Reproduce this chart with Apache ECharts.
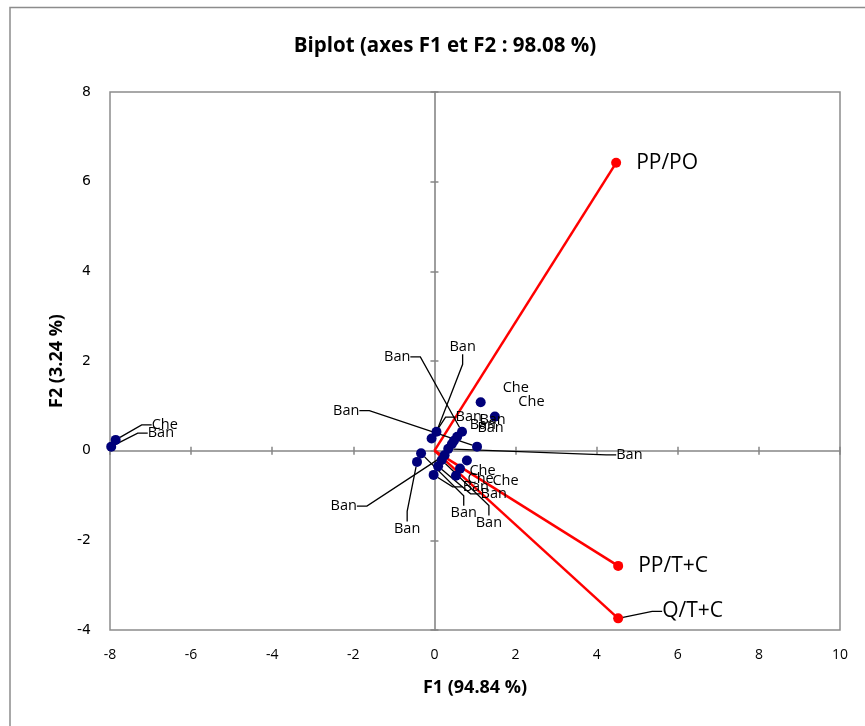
<!DOCTYPE html>
<html><head><meta charset="utf-8">
<script src="https://cdn.jsdelivr.net/npm/echarts@6/dist/echarts.min.js"></script>
<style>html,body{margin:0;padding:0;background:#fff}#c{width:865px;height:726px}</style>
</head><body><div id="c"></div>
<script>
// ---- data ----
const xTicks = [-8, -6, -4, -2, 0, 2, 4, 6, 8, 10];
const yTicks = [-4, -2, 0, 2, 4, 6, 8];
const obsNames = ['Ban','Che','Che','Che','Ban','Ban','Ban','Ban','Ban','Ban','Ban','Ban','Ban','Ban','Ban','Ban','Ban','Che','Che','Che','Ban'];
const obsF1 = [-7.97,-7.86,1.14,1.49,0.68,0.56,0.05,-0.07,1.05,0.43,0.34,0.25,-0.33,-0.43,0.18,0.09,-0.02,0.80,0.63,0.53,0.48];
const obsF2 = [0.09,0.24,1.08,0.76,0.42,0.31,0.42,0.27,0.09,0.15,0.04,-0.10,-0.06,-0.25,-0.21,-0.35,-0.54,-0.22,-0.40,-0.56,0.22];
const varNames = ['PP/PO', 'PP/T+C', 'Q/T+C'];
const varF1 = [4.48, 4.53, 4.53];
const varF2 = [6.42, -2.57, -3.74];

// ---- label placement (pixel shifts of moved labels; layout only) ----
const obsLabelShift = [
  [26.5,-13.5,1],[26,-15,1],[12,-14.5,0],[13.5,-14.7,0],[-88,-75,1],[2.5,-12,0],
  [3,-85,1],[14,-21.5,1],[-154,-36,1],[15.5,-16,0],[158,6,1],[-124,51,1],
  [19.5,60,1],[-33,67,1],[24,63,1],[32.5,27.5,1],[19,12,1],[-7.5,10.5,0],
  [-2.5,10.5,0],[26.5,5,0],[15.5,-21,0]
];
const varLabelShift = [[0,0,0],[0,0,0],[24,-7,1]];

const narrow = "'Liberation Sans Narrow', 'Open Sans', sans-serif";
const grey = '#868686';

const obsData = obsNames.map((n, i) => ({
  name: n, value: [obsF1[i], obsF2[i]],
  labelLine: { show: !!obsLabelShift[i][2] }
}));
const varData = varNames.map((n, i) => ({
  name: n, value: [varF1[i], varF2[i]],
  labelLine: { show: !!varLabelShift[i][2] }
}));

const vectorSeries = varNames.map((n, i) => ({
  type: 'line', data: [[0, 0], [varF1[i], varF2[i]]], symbol: 'none',
  lineStyle: { color: '#ff0000', width: 2.5 }, z: 3, silent: true, animation: false
}));

const valueAxisBase = { type: 'value', splitLine: { show: false } };

const option = {
  animation: false,
  title: {
    text: 'Biplot (axes F1 et F2 : 98.08 %)', left: 440, top: 31, textAlign: 'center',
    textStyle: { fontFamily: narrow, fontWeight: 'bold', fontSize: 20.5, color: '#000' }
  },
  graphic: [{
    type: 'polyline', shape: { points: [[10, 726], [10, 7.5], [865, 7.5]] },
    style: { stroke: '#8c8c8c', lineWidth: 1.5, fill: null }, silent: true
  }],
  grid: { left: 110, top: 92, right: 25, bottom: 96, show: true, borderColor: '#8c8c8c', borderWidth: 1.5 },
  xAxis: [
    Object.assign({}, valueAxisBase, {
      min: xTicks[0], max: xTicks[xTicks.length - 1], interval: 2, position: 'bottom',
      axisLine: { show: false, onZero: false }, axisTick: { show: false },
      axisLabel: { margin: 18, fontSize: 14, color: '#000', fontFamily: narrow },
      name: 'F1 (94.84 %)', nameLocation: 'middle', nameGap: 49,
      nameTextStyle: { fontFamily: narrow, fontWeight: 'bold', fontSize: 18, color: '#000' }
    }),
    Object.assign({}, valueAxisBase, {
      min: xTicks[0], max: xTicks[xTicks.length - 1], interval: 2, position: 'bottom',
      axisLine: { show: true, onZero: true, onZeroAxisIndex: 0, lineStyle: { color: grey, width: 1.6 } },
      axisTick: { show: true, inside: false, length: 4, lineStyle: { color: grey, width: 1.5 } },
      axisLabel: { show: false }
    }),
    Object.assign({}, valueAxisBase, {
      min: xTicks[0], max: xTicks[xTicks.length - 1], interval: 2, position: 'bottom',
      axisLine: { show: false, onZero: true, onZeroAxisIndex: 0 },
      axisTick: { show: true, inside: true, length: 4, lineStyle: { color: grey, width: 1.5 } },
      axisLabel: { show: false }
    })
  ],
  yAxis: [
    Object.assign({}, valueAxisBase, {
      min: yTicks[0], max: yTicks[yTicks.length - 1], interval: 2, position: 'left',
      axisLine: { show: false, onZero: false }, axisTick: { show: false },
      axisLabel: { margin: 19, fontSize: 14, color: '#000', fontFamily: 'DejaVu Sans' },
      name: 'F2 (3.24 %)', nameLocation: 'middle', nameGap: 44,
      nameTextStyle: { fontFamily: narrow, fontWeight: 'bold', fontSize: 18, color: '#000' }
    }),
    Object.assign({}, valueAxisBase, {
      min: yTicks[0], max: yTicks[yTicks.length - 1], interval: 2, position: 'left',
      axisLine: { show: true, onZero: true, onZeroAxisIndex: 0, lineStyle: { color: grey, width: 1.6 } },
      axisTick: { show: true, inside: false, length: 4, lineStyle: { color: grey, width: 1.5 } },
      axisLabel: { show: false }
    }),
    Object.assign({}, valueAxisBase, {
      min: yTicks[0], max: yTicks[yTicks.length - 1], interval: 2, position: 'left',
      axisLine: { show: false, onZero: true, onZeroAxisIndex: 0 },
      axisTick: { show: true, inside: true, length: 4, lineStyle: { color: grey, width: 1.5 } },
      axisLabel: { show: false }
    })
  ],
  series: vectorSeries.concat([
    {
      type: 'scatter', data: obsData, symbolSize: 10, z: 4,
      itemStyle: { color: '#00007a', opacity: 1 },
      label: { show: true, formatter: '{b}', position: 'right', distance: 5, fontSize: 14.5, color: '#000', fontFamily: 'Open Sans' },
      labelLine: { show: false, length2: 10, lineStyle: { color: '#000', width: 1.3 } },
      labelLayout: function (p) { const s = obsLabelShift[p.dataIndex]; return { dx: s[0], dy: s[1] }; }
    },
    {
      type: 'scatter', data: varData, symbolSize: 10, z: 5,
      itemStyle: { color: '#ff0000', opacity: 1 },
      label: { show: true, formatter: '{b}', position: 'right', distance: 15, fontSize: 21, color: '#000', fontFamily: 'Open Sans' },
      labelLine: { show: false, length2: 10, lineStyle: { color: '#000', width: 1.3 } },
      labelLayout: function (p) { const s = varLabelShift[p.dataIndex]; return { dx: s[0], dy: s[1] }; }
    }
  ])
};
const chart = echarts.init(document.getElementById('c'), null, { renderer: 'canvas' });
chart.setOption(option);
</script>
</body></html>
